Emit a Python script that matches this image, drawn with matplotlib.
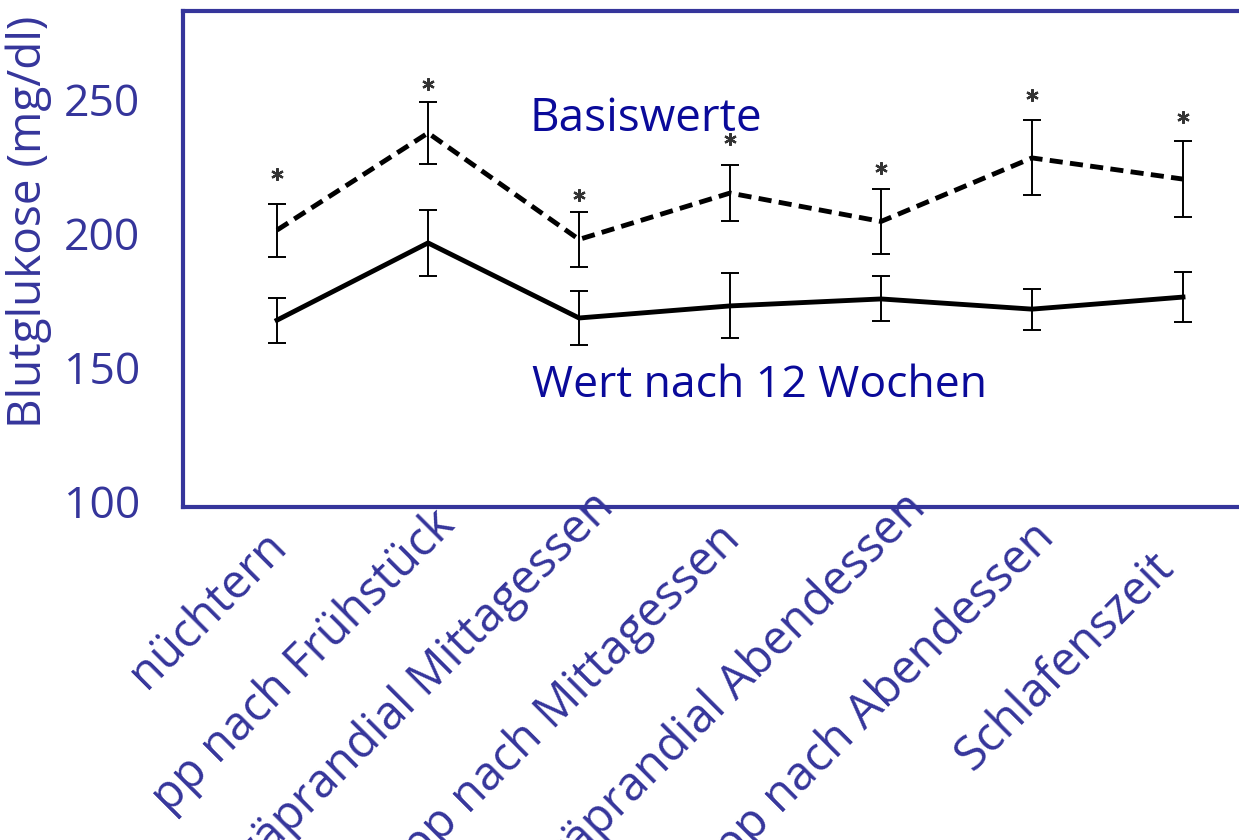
import matplotlib.pyplot as plt
from matplotlib.transforms import ScaledTranslation

plt.rcParams['font.family'] = ['Open Sans', 'DejaVu Sans']

# data
categories = ['nüchtern', 'pp nach Frühstück', 'präprandial Mittagessen',
              'pp nach Mittagessen', 'präprandial Abendessen',
              'pp nach Abendessen', 'Schlafenszeit']
basis = [201.1, 237.3, 197.6, 214.9, 204.3, 228.0, 220.1]
basis_err = [9.9, 11.6, 10.1, 10.4, 12.1, 14.0, 14.2]
woche12 = [167.5, 196.3, 168.3, 172.8, 175.4, 171.6, 176.1]
woche12_err = [8.4, 12.3, 10.1, 12.1, 8.4, 7.6, 9.3]
star_y = [222.0, 255.6, 214.2, 235.1, 224.3, 251.5, 243.3]
yticks = [100, 150, 200, 250]

navy = '#35359b'
text_blue = '#0a0a9a'

fig = plt.figure(figsize=(12.39, 8.40), dpi=100)
ax = fig.add_axes([183/1239, 333/840, 1 - 183/1239, 496/840])

x = list(range(len(categories)))

ax.errorbar(x, basis, yerr=basis_err, color='black', lw=3.5, ls='--',
            dashes=(2.7, 1.5), ecolor='black', elinewidth=1.4, capsize=6.5,
            capthick=1.4)
ax.errorbar(x, woche12, yerr=woche12_err, color='black', lw=3.5,
            ecolor='black', elinewidth=1.4, capsize=6.5, capthick=1.4)
ax.plot(x, star_y, ls='none', marker=(6, 2, 0), ms=9, mew=1.6, color='#333333')

ax.text(1.675, 238.1, 'Basiswerte', color=text_blue, fontsize=33,
        va='baseline', ha='left')
ax.text(1.689, 138.8, 'Wert nach 12 Wochen', color=text_blue, fontsize=32,
        va='baseline', ha='left')

ax.set_xlim(-0.623, 6.371)
ax.set_ylim(97.8, 282.8)

ax.set_yticks(yticks)
ax.set_yticklabels([str(v) for v in yticks])
ax.tick_params(axis='y', length=0, pad=31, labelsize=32, labelcolor=navy)

ax.set_xticks(x)
ax.set_xticklabels(categories, rotation=45, ha='right', va='center',
                   rotation_mode='anchor', fontsize=34, color=navy)
ax.tick_params(axis='x', length=0, pad=0)

# hand placed label ends, in pixels (right, down)
label_nudge = [(2, 32), (20, 11), (28, -7), (3, 25), (38, -6), (15, 23), (-16, 53)]
for lab, (dx, dy) in zip(ax.get_xticklabels(), label_nudge):
    lab.set_transform(lab.get_transform() +
                      ScaledTranslation(dx / 100, -dy / 100, fig.dpi_scale_trans))

ax.set_ylabel('Blutglukose (mg/dl)', fontsize=33, color=navy)
ax.yaxis.set_label_coords(-0.124, 0.575)

for side in ['left', 'top', 'bottom']:
    ax.spines[side].set_color(navy)
    ax.spines[side].set_linewidth(3)
ax.spines['right'].set_visible(False)

fig.savefig('out.png', dpi=100)
